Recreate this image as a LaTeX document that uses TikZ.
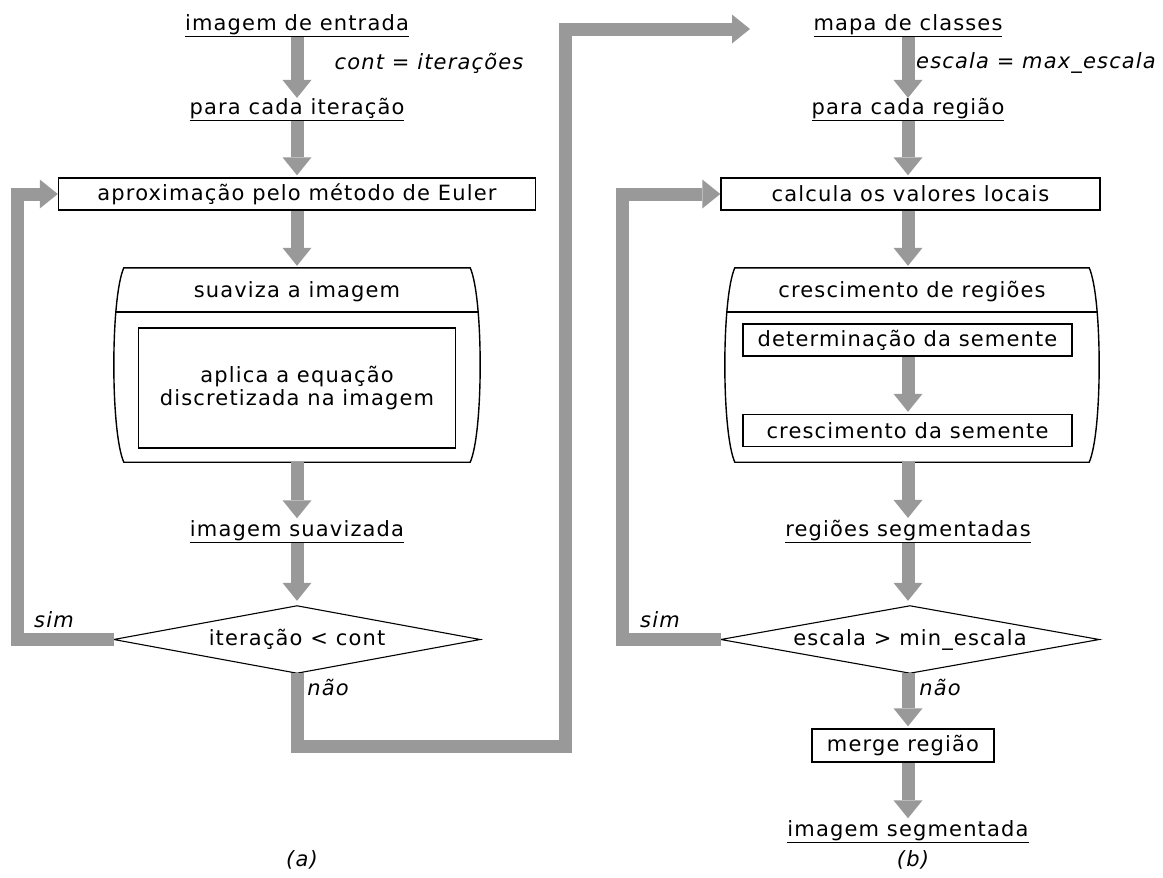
\documentclass[tikz,border=0pt]{standalone}
\usepackage{fontspec}
\setmainfont{DejaVu Sans}[LetterSpace=5.5]
\usetikzlibrary{arrows.meta,calc}
\definecolor{flowgray}{RGB}{153,153,153}
\begin{document}
\begin{tikzpicture}[x=1pt,y=-1pt,
  every node/.style={font=\fontsize{21}{23}\selectfont},
  ultext/.style={inner sep=0pt, anchor=south},
  lbl/.style={inner sep=0pt, font=\fontsize{21}{23}\selectfont\itshape},
  procbox/.style={draw, line width=1.4pt, inner sep=0pt, minimum height=32pt},
  groupbox/.style={inner sep=0pt, minimum height=194pt},
  decide/.style={inner sep=0pt, minimum height=67pt},
  diamondline/.style={line width=1.1pt, line join=miter},
  flow/.style={draw=flowgray, line width=13pt},
  flowarr/.style={flow, -{Triangle[width=29pt,length=18pt,line width=0pt]}},
  outline/.style={line width=1.4pt}
]
\useasboundingbox (0,0) rectangle (1163,878);
\fill[white] (0,0) rectangle (1163,878);

% ---------------- left column (a) ----------------
\node[ultext] (t1) at (297,37) {\underline{imagem de entrada}};
\node[lbl] (l1) at (429,63) {cont = iterações};
\node[ultext] (t2) at (297,121) {\underline{para cada iteração}};
\node[procbox, minimum width=477pt] (b1) at (297,194) {aproximação pelo método de Euler};
\node[groupbox, minimum width=366pt] (s1) at (297,365) {};
\node[inner sep=0pt] (s1t) at ($(s1.north)+(0,24)$) {suaviza a imagem};
\node[procbox, minimum width=317pt, minimum height=120pt, align=center] (s2) at (297,388)
  {aplica a equação\\discretizada na imagem};
\node[ultext] (t3) at (297,543) {\underline{imagem suavizada}};
\node[decide, minimum width=366pt] (d1) at (297,639.5) {iteração < cont};
\node[lbl] (sim1) at (54,620) {sim};
\node[lbl] (nao1) at (328,687) {não};
\node[lbl] (capa) at (302,860) {(a)};

\draw[diamondline] (d1.west) -- (d1.north) -- (d1.east) -- (d1.south) -- cycle;
\draw[outline] ($(s1.north west)+(10,0)$) -- ($(s1.north east)+(-10,0)$)
  .. controls ($(s1.north east)+(3.3,30)$) and ($(s1.south east)+(3.3,-30)$) .. ($(s1.south east)+(-10,0)$)
  -- ($(s1.south west)+(10,0)$)
  .. controls ($(s1.south west)+(-3.3,-30)$) and ($(s1.north west)+(-3.3,30)$) .. cycle;
\draw[outline] ($(s1.north west)+(2,44)$) -- ($(s1.north east)+(-2,44)$);

\coordinate (cL) at (17,0);
\coordinate (cB) at (565,746);
\coordinate (cT) at (750,29);

\draw[flowarr] (t1.south) -- (t2.north);
\draw[flowarr, shorten >=2pt] (t2.south) -- (b1.north);
\draw[flowarr, shorten >=2pt] (b1.south) -- (s1.north);
\draw[flowarr, shorten >=2pt] (s1.south) -- (t3.north);
\draw[flowarr, shorten >=5pt] (t3.south) -- (d1.north);
\draw[flowarr] (d1.west) -- (d1.west -| cL) |- (b1.west);
\draw[flowarr] (d1.south) |- (cB) |- (cT);

% ---------------- right column (b) ----------------
\node[ultext] (r1) at (908,37) {\underline{mapa de classes}};
\node[lbl, anchor=west] (l2) at (916,63) {escala = max\_escala};
\node[ultext] (r2) at (908,121) {\underline{para cada região}};
\node[procbox, minimum width=379pt] (rb1) at (910.5,194) {calcula os valores locais};
\node[groupbox, minimum width=374pt] (c1) at (912,365) {};
\node[inner sep=0pt] (c1t) at ($(c1.north)+(0,24)$) {crescimento de regiões};
\node[procbox, minimum width=329pt] (c2) at (907.5,340) {determinação da semente};
\node[procbox, minimum width=329pt] (c3) at (907.5,430.5) {crescimento da semente};
\node[ultext] (r3) at (908,543) {\underline{regiões segmentadas}};
\node[decide, minimum width=378pt] (d2) at (910,639.5) {escala > min\_escala};
\node[lbl] (sim2) at (660,620) {sim};
\node[lbl] (nao2) at (940,687) {não};
\node[procbox, minimum width=182pt, minimum height=33pt] (m1) at (903,745.5) {merge região};
\node[ultext] (r4) at (908,843) {\underline{imagem segmentada}};
\node[lbl] (capb) at (913,860) {(b)};

\draw[diamondline] (d2.west) -- (d2.north) -- (d2.east) -- (d2.south) -- cycle;
\draw[outline] ($(c1.north west)+(10,0)$) -- ($(c1.north east)+(-10,0)$)
  .. controls ($(c1.north east)+(3.3,30)$) and ($(c1.south east)+(3.3,-30)$) .. ($(c1.south east)+(-10,0)$)
  -- ($(c1.south west)+(10,0)$)
  .. controls ($(c1.south west)+(-3.3,-30)$) and ($(c1.north west)+(-3.3,30)$) .. cycle;
\draw[outline] ($(c1.north west)+(2,44)$) -- ($(c1.north east)+(-2,44)$);

\coordinate (cR) at (622,0);

\draw[flowarr] (r1.south) -- (r2.north);
\draw[flowarr, shorten >=2pt] (r2.south) -- (r2.south |- rb1.north);
\draw[flowarr, shorten >=2pt] (r2.south |- rb1.south) -- (r2.south |- c1.north);
\draw[flowarr, shorten >=2pt] (r2.south |- c2.south) -- (r2.south |- c3.north);
\draw[flowarr, shorten >=2pt] (r2.south |- c1.south) -- (r3.north);
\draw[flowarr, shorten >=5pt] (r3.south) -- (r3.south |- d2.north);
\draw[flowarr] (d2.west) -- (d2.west -| cR) |- (rb1.west);
\draw[flowarr, shorten >=2pt] (r3.south |- d2.south) -- (r3.south |- m1.north);
\draw[flowarr, shorten >=2pt] (r3.south |- m1.south) -- (r4.north);
\end{tikzpicture}
\end{document}
